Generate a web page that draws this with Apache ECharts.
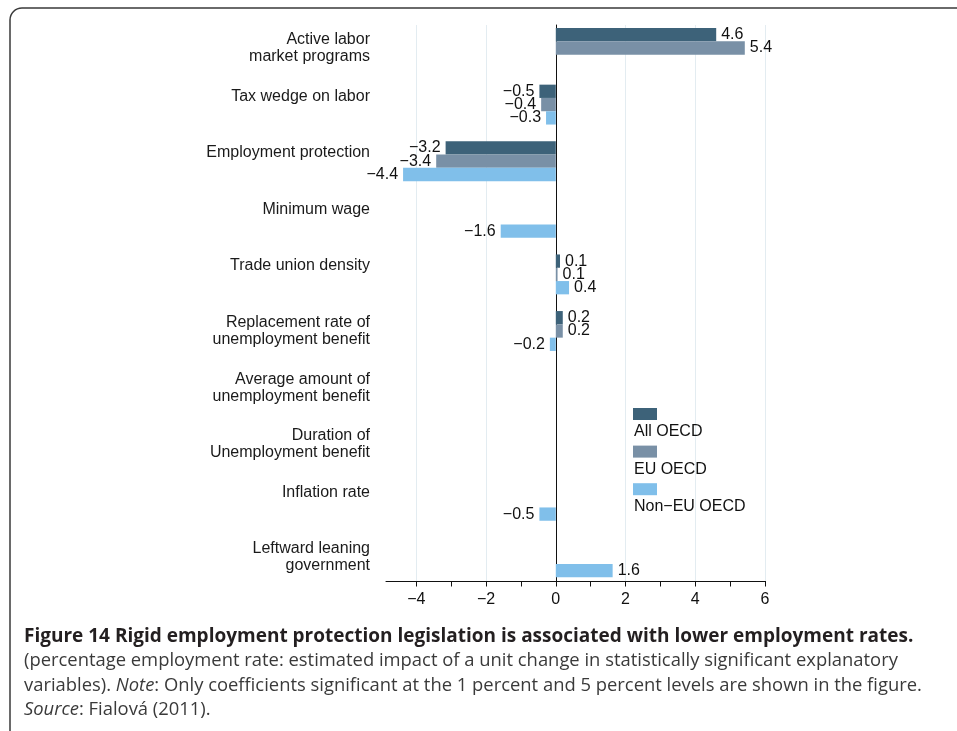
<!DOCTYPE html>
<html><head><meta charset="utf-8">
<script src="https://cdn.jsdelivr.net/npm/echarts@6/dist/echarts.min.js"></script>
<style>html,body{margin:0;padding:0;background:#fff}#c{width:957px;height:731px}</style>
</head><body><div id="c"></div>
<script>
// ---- data ----
const categories = [
  'Active labor\nmarket programs',
  'Tax wedge on labor',
  'Employment protection',
  'Minimum wage',
  'Trade union density',
  'Replacement rate of\nunemployment benefit',
  'Average amount of\nunemployment benefit',
  'Duration of\nUnemployment benefit',
  'Inflation rate',
  'Leftward leaning\ngovernment'
];
const seriesNames = ['All OECD', 'EU OECD', 'Non\u2212EU OECD'];
const allOECD   = [4.6, -0.47, -3.16, null, 0.12, 0.2, null, null, null, null];
const euOECD    = [5.42, -0.42, -3.43, null, 0.05, 0.2, null, null, null, null];
const nonEuOECD = [null, -0.28, -4.38, -1.58, 0.38, -0.17, null, null, -0.47, 1.63];
const xTickValues  = [-4, -3, -2, -1, 0, 1, 2, 3, 4, 5, 6];
const xLabelValues = [-4, -2, 0, 2, 4, 6];
const xMin = -4.87, xMax = 6;

// ---- layout ----
const X0 = 555.8, U = 34.87;
const gridLeft = X0 + xMin * U;
const gridWidth = (xMax - xMin) * U;
const glLeft = X0 + xLabelValues[0] * U;
const glWidth = (xLabelValues[xLabelValues.length - 1] - xLabelValues[0]) * U;
const FONT = 'Liberation Sans';
const CAP = 'Open Sans';
const colors = ['#3d6279', '#7990a6', '#80bfea'];
const minus = v => (v < 0 ? '\u2212' : '') + Math.abs(v);

function toData(arr) {
  return arr.map(v => v == null ? '-' : { value: v, label: { position: v < 0 ? 'left' : 'right' } });
}
const seriesValues = [allOECD, euOECD, nonEuOECD];

const chart = echarts.init(document.getElementById('c'), null, { renderer: 'canvas' });
chart.setOption({
  animation: false,
  backgroundColor: '#fff',
  grid: [
    { left: gridLeft, width: gridWidth, top: 19.7, height: 566 },
    { left: gridLeft, width: gridWidth, top: 25, height: 556 },
    { left: glLeft, width: glWidth, top: 25, height: 556 }
  ],
  xAxis: [
    { gridIndex: 0, type: 'value', min: xMin, max: xMax, show: false },
    { gridIndex: 1, type: 'value', min: xMin, max: xMax, position: 'bottom',
      axisLine: { show: true, lineStyle: { color: '#111', width: 1 } },
      axisTick: { show: true, customValues: xTickValues, length: 5.5, lineStyle: { color: '#111' } },
      axisLabel: { show: true, customValues: xLabelValues, formatter: v => minus(v), margin: 11,
        fontFamily: FONT, fontSize: 16, color: '#111' },
      splitLine: { show: false } },
    { gridIndex: 2, type: 'value', min: xLabelValues[0], max: xLabelValues[xLabelValues.length - 1], interval: 2,
      axisLine: { show: false }, axisTick: { show: false }, axisLabel: { show: false },
      splitLine: { show: true, lineStyle: { width: 1, color: xLabelValues.map(v => v === 0 ? '#1a1a1a' : '#e3ecf1') } } }
  ],
  yAxis: [
    { gridIndex: 0, type: 'category', inverse: true, data: categories,
      axisLine: { show: false }, axisTick: { show: false }, splitLine: { show: false },
      axisLabel: { show: true, margin: 16, fontFamily: FONT, fontSize: 16, color: '#1a1a1a', lineHeight: 17,
        padding: [0, 0, 4, 0],
        formatter: s => s.indexOf('\n') >= 0 ? s : s + '\n ' } },
    { gridIndex: 1, type: 'value', min: 0, max: 1,
      axisLine: { show: true, lineStyle: { color: '#111', width: 1 } },
      axisTick: { show: false }, axisLabel: { show: false }, splitLine: { show: false } },
    { gridIndex: 2, type: 'value', min: 0, max: 1, show: false }
  ],
  legend: [
    { orient: 'vertical', left: 633, top: 408, padding: 0, itemWidth: 24, itemHeight: 12, itemGap: 25.6, icon: 'rect',
      data: seriesNames, formatter: () => '', textStyle: { fontSize: 10, lineHeight: 12 }, selectedMode: false },
    { orient: 'vertical', left: 629, top: 423, padding: 0, itemWidth: 0, itemHeight: 0, itemGap: 19.4, icon: 'none',
      data: seriesNames, selectedMode: false,
      textStyle: { fontFamily: FONT, fontSize: 16, lineHeight: 18, color: '#111' } }
  ],
  title: {
    left: 24, top: 624.5, padding: 0,
    text: '{b|Figure 14 Rigid employment protection legislation is associated with lower employment rates.}\n' +
          '{r|(percentage employment rate: estimated impact of a unit change in statistically significant explanatory}\n' +
          '{r|variables). }{i|Note}{r|: Only coefficients significant at the 1 percent and 5 percent levels are shown in the figure.}\n' +
          '{i|Source}{r|: Fialová (2011).}',
    textStyle: {
      rich: {
        b: { fontFamily: CAP, fontWeight: 'bold', fontSize: 19, lineHeight: 24.5, color: '#231f20' },
        r: { fontFamily: CAP, fontWeight: 'normal', fontSize: 18.4, lineHeight: 24.5, color: '#3a3a3a' },
        i: { fontFamily: CAP, fontWeight: 'normal', fontStyle: 'italic', fontSize: 18.4, lineHeight: 24.5, color: '#3a3a3a' }
      }
    }
  },
  graphic: [
    { type: 'rect', silent: true, z: -10,
      shape: { x: 10, y: 8, width: 1000, height: 800, r: 12 },
      style: { fill: 'none', stroke: '#3a3a3a', lineWidth: 1.5 } }
  ],
  series: seriesValues.map((arr, i) => ({
    name: seriesNames[i], type: 'bar', xAxisIndex: 0, yAxisIndex: 0,
    data: toData(arr), barWidth: 13.3, barGap: '0%',
    itemStyle: { color: colors[i] },
    label: { show: true, distance: 5, fontFamily: FONT, fontSize: 16, color: '#111',
      formatter: p => (p.value < 0 ? '\u2212' : '') + Math.abs(p.value).toFixed(1) }
  }))
});
</script>
</body></html>
